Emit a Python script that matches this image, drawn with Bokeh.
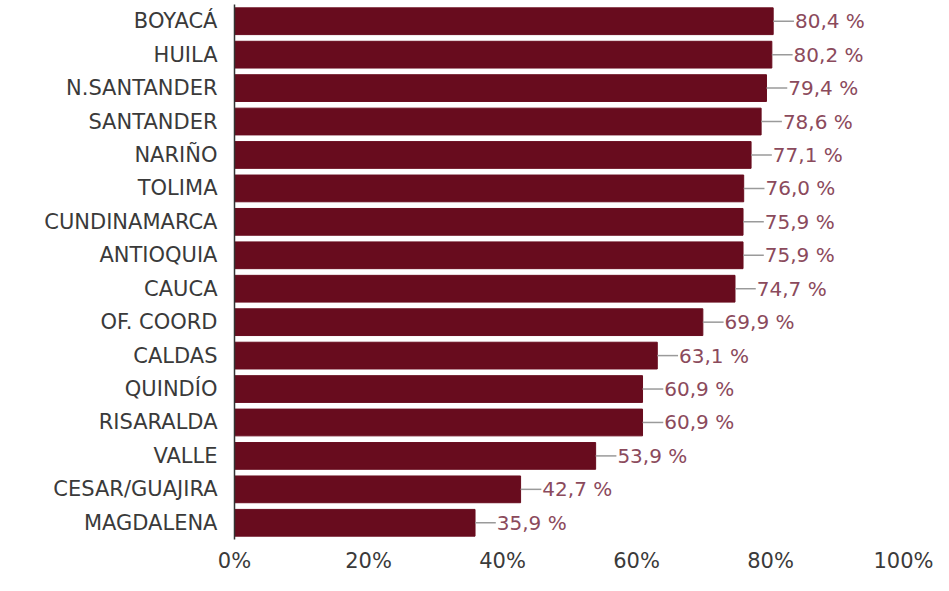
from bokeh.plotting import figure
from bokeh.models import FactorRange, Range1d, FixedTicker, PrintfTickFormatter, ColumnDataSource
from bokeh.embed import file_html
from bokeh.resources import INLINE

categories = ["BOYACÁ", "HUILA", "N.SANTANDER", "SANTANDER", "NARIÑO", "TOLIMA",
              "CUNDINAMARCA", "ANTIOQUIA", "CAUCA", "OF. COORD", "CALDAS", "QUINDÍO",
              "RISARALDA", "VALLE", "CESAR/GUAJIRA", "MAGDALENA"]
values = [80.4, 80.2, 79.4, 78.6, 77.1, 76.0, 75.9, 75.9, 74.7, 69.9, 63.1, 60.9,
          60.9, 53.9, 42.7, 35.9]
x_ticks = [0, 20, 40, 60, 80, 100]

FONT = "DejaVu Sans"
BAR = "#680c1e"
LABEL = "#8b4a5c"
TEXT = "#3a3a3a"

labels = [f"{v:.1f}".replace(".", ",") + " %" for v in values]
src = ColumnDataSource(dict(cat=categories, val=values, lead=[v + 3.1 for v in values], lab=labels))

p = figure(width=933, height=575, output_backend="svg", toolbar_location=None,
           y_range=FactorRange(factors=list(reversed(categories)), range_padding=0),
           x_range=Range1d(0, 100),
           min_border_left=234, min_border_right=29, min_border_top=4, min_border_bottom=32)

p.hbar(y="cat", right="val", height=0.8, source=src, fill_color=BAR, line_color=BAR)
p.segment(x0="val", y0="cat", x1="lead", y1="cat", source=src, line_color="#9a9a9a", line_width=1.5)
p.text(x="lead", y="cat", text="lab", source=src, text_color=LABEL, text_font_size="20px",
       text_font={"value": FONT}, text_baseline="middle", text_align="left", x_offset=1)

p.xgrid.visible = False
p.ygrid.visible = False
p.outline_line_color = None

p.xaxis.ticker = FixedTicker(ticks=x_ticks)
p.xaxis.formatter = PrintfTickFormatter(format="%d%%")
p.xaxis.axis_line_color = None
p.xaxis.major_tick_line_color = None
p.xaxis.minor_tick_line_color = None
p.xaxis.major_tick_out = 0
p.xaxis.minor_tick_out = 0
p.xaxis.major_label_text_font = FONT
p.xaxis.major_label_text_font_size = "21px"
p.xaxis.major_label_text_color = TEXT
p.xaxis.major_label_standoff = 9

p.yaxis.axis_line_color = "#333333"
p.yaxis.axis_line_width = 1.5
p.yaxis.major_tick_line_color = None
p.yaxis.minor_tick_line_color = None
p.yaxis.major_tick_out = 0
p.yaxis.minor_tick_out = 0
p.yaxis.major_label_text_font = FONT
p.yaxis.major_label_text_font_size = "21px"
p.yaxis.major_label_text_color = TEXT
p.yaxis.major_label_standoff = 17

open("out.html", "w").write(file_html(p, INLINE))
